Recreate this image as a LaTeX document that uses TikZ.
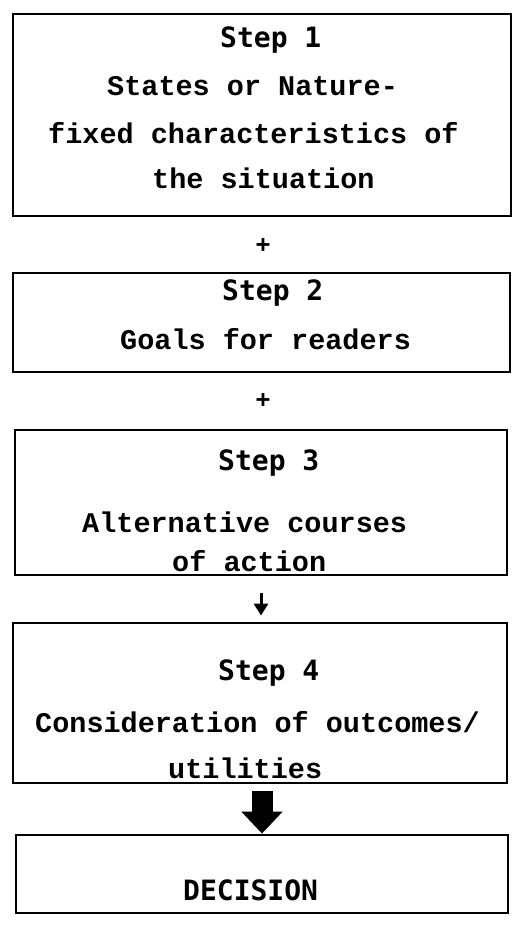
\documentclass[tikz,border=0pt]{standalone}
\usepackage{fontspec}
\usetikzlibrary{arrows.meta}
\newfontfamily\courtext{Liberation Mono}[BoldFont={Liberation Mono Bold}]
\newfontfamily\gothtext{DejaVu Sans Mono}[BoldFont={DejaVu Sans Mono Bold}]
\begin{document}
\begin{tikzpicture}[x=1pt,y=-1pt,
  box/.style={draw=black, line width=2.8pt, inner sep=0pt, fill=none},
  typed/.style={anchor=base west, inner sep=0pt, font=\courtext\bfseries\fontsize{28.5}{30}\selectfont},
  heading/.style={anchor=base west, inner sep=0pt, font=\gothtext\bfseries\fontsize{28}{30}\selectfont},
  plussign/.style={anchor=base, inner sep=0pt, font=\gothtext\bfseries\fontsize{24}{26}\selectfont},
  smallarrow/.style={line width=3pt, -{Triangle[width=14pt,length=12pt]}},
  bigarrow/.style={line width=21pt, -{Triangle[width=40pt,length=22pt]}}]
\useasboundingbox[fill=white] (0,0) rectangle (516,930);
% boxes
\node[box, minimum width=498pt, minimum height=202pt] (b1) at (262,115) {};
\node[box, minimum width=497pt, minimum height=99pt] (b2) at (261.5,322.5) {};
\node[box, minimum width=492pt, minimum height=145pt] (b3) at (261,502.5) {};
\node[box, minimum width=494pt, minimum height=160pt] (b4) at (260,703) {};
\node[box, minimum width=492pt, minimum height=78pt] (b5) at (262,874) {};
% step 1
\node[heading] (s1) at (220,47) {Step 1};
\node[typed] (t1a) at (107,95) {States or Nature-};
\node[typed] (t1b) at (48,143) {fixed characteristics of};
\node[typed] (t1c) at (152,188) {the situation};
% plus
\node[plussign] (p1) at (263,252) {+};
% step 2
\node[heading] (s2) at (222,300) {Step 2};
\node[typed] (t2a) at (120,349) {Goals for readers};
% plus
\node[plussign] (p2) at (263,407) {+};
% step 3
\node[heading] (s3) at (218,470) {Step 3};
\node[typed] (t3a) at (82,532) {Alternative courses};
\node[typed] (t3b) at (172,571) {of action};
% step 4
\node[heading] (s4) at (218,680) {Step 4};
\node[typed] (t4a) at (35,732) {Consideration of outcomes/};
\node[typed] (t4b) at (168,778) {utilities};
% decision
\node[heading] (d) at (183,900) {DECISION};
% arrows
\draw[smallarrow, shorten <=17pt, shorten >=6pt] (b3.south) -- (b3.south |- b4.north);
\draw[bigarrow, shorten <=7pt] (b4.south -| b5.north) -- (b5.north);
\end{tikzpicture}
\end{document}
